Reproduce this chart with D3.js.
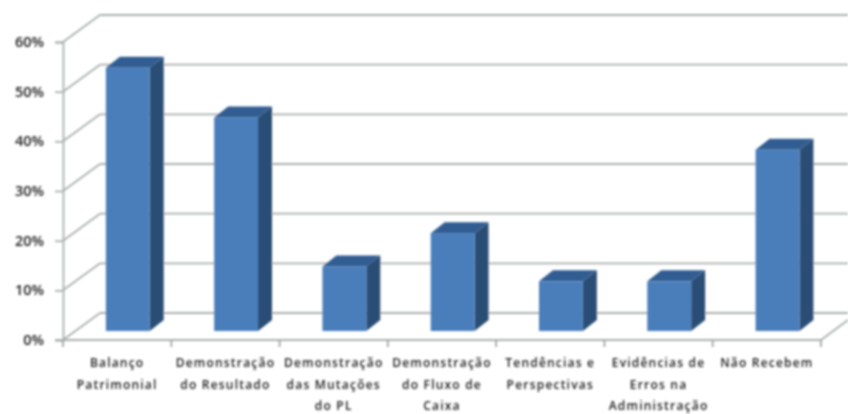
<!DOCTYPE html>
<html>
<head>
<meta charset="utf-8">
<script src="https://cdn.jsdelivr.net/npm/d3@7"></script>
<style>
  html, body { margin: 0; padding: 0; background: #fff; }
  svg { display: block; }
</style>
</head>
<body>
<script>
// values
const categories = ["Balanço Patrimonial", "Demonstração do Resultado", "Demonstração das Mutações do PL",
    "Demonstração do Fluxo de Caixa", "Tendências e Perspectivas", "Evidências de Erros na Administração", "Não Recebem"];
const labelLines = [
    ["Balanço", "Patrimonial"],
    ["Demonstração", "do Resultado"],
    ["Demonstração", "das Mutações", "do PL"],
    ["Demonstração", "do Fluxo de", "Caixa"],
    ["Tendências e", "Perspectivas"],
    ["Evidências de", "Erros na", "Administração"],
    ["Não Recebem"]
];
const values = [53, 43, 13, 19.7, 10, 10, 36.5];
const yTicks = [0, 10, 20, 30, 40, 50, 60];

const width = 848;
const height = 414;

// 3d offsets of the chart box
const depthX = 37, depthY = -27;
const barDX = 12, barDY = -9;
const sideX = 14, sideY = -11;

const svg = d3.select("body").append("svg")
    .attr("width", width)
    .attr("height", height);

// the reference is a soft scan, so everything gets a slight blur
svg.append("filter").attr("id", "soft")
    .attr("filterUnits", "userSpaceOnUse")
    .attr("x", 0).attr("y", 0).attr("width", width).attr("height", height)
    .append("feGaussianBlur").attr("stdDeviation", 0.8);

const root = svg.append("g").attr("filter", "url(#soft)");

const x = d3.scaleBand().domain(categories).range([63, 821]);
const y = d3.scaleLinear().domain([0, 60]).range([340, 42]);
const barW = x.bandwidth() * 0.405;
const barOff = x.bandwidth() * 0.285;

const gridColor = "#aab0b0";

// back wall lines
root.selectAll(".grid").data(yTicks).join("line")
    .attr("x1", 63 + depthX).attr("x2", width)
    .attr("y1", d => y(d) + depthY).attr("y2", d => y(d) + depthY)
    .attr("stroke", gridColor).attr("stroke-width", 1.8);

// side wall diagonals
root.selectAll(".diag").data(yTicks).join("line")
    .attr("x1", 63).attr("x2", 63 + depthX)
    .attr("y1", d => y(d)).attr("y2", d => y(d) + depthY)
    .attr("stroke", gridColor).attr("stroke-width", 1.8);

// floor right edge
root.append("line")
    .attr("x1", 821).attr("x2", 848)
    .attr("y1", y(0)).attr("y2", y(0) - 20)
    .attr("stroke", gridColor).attr("stroke-width", 1.8);

// y axis
const yAxis = root.append("g").attr("transform", "translate(63,0)")
    .call(d3.axisLeft(y).tickValues(yTicks).tickFormat(d => d + "%").tickSize(8).tickPadding(11));
yAxis.selectAll("path, line").attr("stroke", gridColor).attr("stroke-width", 1.8);
yAxis.selectAll("text")
    .attr("fill", "#222")
    .style("font-family", "'Open Sans', sans-serif")
    .style("font-size", "14.5px")
    .style("font-weight", 600);

// x axis, ticks sit on the band edges
root.append("line")
    .attr("x1", 55).attr("x2", 821)
    .attr("y1", y(0)).attr("y2", y(0))
    .attr("stroke", gridColor).attr("stroke-width", 1.8);
root.selectAll(".xtick").data(categories).join("line")
    .attr("x1", d => x(d) + x.bandwidth()).attr("x2", d => x(d) + x.bandwidth())
    .attr("y1", y(0)).attr("y2", y(0) + 7)
    .attr("stroke", "#9fa5a5").attr("stroke-width", 1.8);
root.append("line")
    .attr("x1", 63).attr("x2", 63)
    .attr("y1", y(0)).attr("y2", y(0) + 7)
    .attr("stroke", "#9fa5a5").attr("stroke-width", 1.8);

// bars
const bars = root.selectAll(".bar").data(categories).join("g");
const bx = d => x(d) + barOff + barDX;
const by = (d, i) => y(values[i]) + barDY;
const base = y(0) + barDY;

bars.append("polygon") // side
    .attr("fill", "#2c4d75")
    .attr("points", (d, i) => {
        const r = bx(d) + barW, t = by(d, i);
        return [[r, t], [r + sideX, t + sideY], [r + sideX, base + sideY], [r, base]].join(" ");
    });
bars.append("polygon") // top
    .attr("fill", "#315d92")
    .attr("points", (d, i) => {
        const l = bx(d), r = l + barW, t = by(d, i);
        return [[l, t], [r, t], [r + sideX, t + sideY], [l + sideX, t + sideY]].join(" ");
    });
bars.append("rect") // front
    .attr("fill", "#4a7ebb")
    .attr("x", bx)
    .attr("y", by)
    .attr("width", barW)
    .attr("height", (d, i) => base - by(d, i));

// category labels
const labels = root.selectAll(".cat").data(categories).join("text")
    .attr("text-anchor", "middle")
    .attr("fill", "#222")
    .style("font-family", "'Open Sans', sans-serif")
    .style("font-size", "12px")
    .style("font-weight", 600)
    .style("letter-spacing", "1.2px");
labels.selectAll("tspan").data((d, i) => labelLines[i].map(l => ({ l, d }))).join("tspan")
    .attr("x", v => x(v.d) + x.bandwidth() / 2)
    .attr("y", (v, j) => 367 + j * 21.5)
    .text(v => v.l);
</script>
</body>
</html>
